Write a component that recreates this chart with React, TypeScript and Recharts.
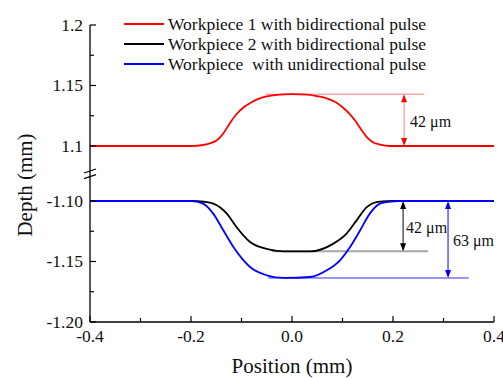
import React from 'react';
import { LineChart, Line, XAxis, YAxis, ReferenceLine } from 'recharts';

// measured profiles (position in mm, depth in mm)
const redX = [-0.4, -0.2, -0.176, -0.16, -0.148, -0.135, -0.123, -0.11, -0.095, -0.08, -0.065, -0.05, -0.03, 0, 0.03, 0.05, 0.069, 0.085, 0.1, 0.113, 0.125, 0.138, 0.151, 0.162, 0.174, 0.194, 0.4];
const redDepth = [1.1, 1.1, 1.1008, 1.1025, 1.105, 1.111, 1.1188, 1.1262, 1.1322, 1.1362, 1.1392, 1.141, 1.1422, 1.1428, 1.1425, 1.1412, 1.1394, 1.1365, 1.132, 1.127, 1.121, 1.113, 1.106, 1.1027, 1.1012, 1.1, 1.1];

const blackX = [-0.4, -0.198, -0.175, -0.156, -0.129, -0.11, -0.083, -0.044, -0.017, 0.036, 0.082, 0.108, 0.128, 0.148, 0.174, 0.201, 0.4];
const blackDepth = [-1.1, -1.1, -1.1006, -1.1021, -1.1104, -1.1215, -1.1339, -1.1402, -1.1416, -1.1416, -1.1352, -1.1269, -1.116, -1.105, -1.1005, -1.1, -1.1];

const blueX = [-0.4, -0.199, -0.176, -0.156, -0.136, -0.116, -0.096, -0.083, -0.05, -0.017, 0.036, 0.069, 0.095, 0.115, 0.135, 0.154, 0.174, 0.194, 0.21, 0.4];
const blueDepth = [-1.1, -1.1, -1.1021, -1.1104, -1.1242, -1.138, -1.149, -1.1545, -1.1614, -1.1636, -1.1628, -1.1573, -1.149, -1.138, -1.1242, -1.1104, -1.1021, -1.1005, -1.1, -1.1];

const seriesNames = [
  'Workpiece 1 with bidirectional pulse',
  'Workpiece 2 with bidirectional pulse',
  'Workpiece  with unidirectional pulse',
];
const seriesColors = ['#ff0000', '#000000', '#0000ff'];

const xTicks = [-0.4, -0.3, -0.2, -0.1, 0, 0.1, 0.2, 0.3, 0.4];
const xTickLabels = ['-0.4', '', '-0.2', '', '0.0', '', '0.2', '', '0.4'];

const topTicks = [1.1, 1.125, 1.15, 1.175, 1.2];
const topTickLabels = ['1.1', '', '1.15', '', '1.2'];
const bottomTicks = [-1.2, -1.175, -1.15, -1.125, -1.1];
const bottomTickLabels = ['-1.20', '', '-1.15', '', '-1.10'];

// the upper section (1.1 .. 1.2) sits right on top of the lower one after the axis break
const TOP_OFFSET = 2.1545;
const Y_DOMAIN: [number, number] = [-1.2, 1.2 - TOP_OFFSET];
const BREAK_U = (-1.1 + (1.1 - TOP_OFFSET)) / 2;

const toRows = (xs: number[], ys: number[], off = 0) => xs.map((x, i) => ({ x, y: ys[i] - off }));
const redData = toRows(redX, redDepth, TOP_OFFSET);
const blackData = toRows(blackX, blackDepth);
const blueData = toRows(blueX, blueDepth);

const redPeak = Math.max(...redDepth) - TOP_OFFSET;
const redBase = 1.1 - TOP_OFFSET;
const blackBottom = Math.min(...blackDepth);
const blueBottom = Math.min(...blueDepth);

const yTickEntries = [
  ...topTicks.map((v, i) => ({ u: v - TOP_OFFSET, label: topTickLabels[i] })),
  ...bottomTicks.map((v, i) => ({ u: v, label: bottomTickLabels[i] })),
];

const FONT = '"Liberation Serif", "Times New Roman", serif';

const YTick = (props: any) => {
  const { x, y, payload } = props;
  const t = yTickEntries.find(e => Math.abs(e.u - payload.value) < 1e-6);
  if (!t) return null;
  const len = t.label ? 6 : 4;
  return (
    <g>
      <line x1={x} x2={x + len} y1={y} y2={y} stroke="#000" strokeWidth={1.2} />
      {t.label && (
        <text x={x - 7} y={y} dy="0.34em" textAnchor="end" fontSize={17.5} fontFamily={FONT} fill="#111">
          {t.label}
        </text>
      )}
    </g>
  );
};

const XTick = (props: any) => {
  const { x, y, payload } = props;
  const idx = xTicks.findIndex(v => Math.abs(v - payload.value) < 1e-6);
  if (idx < 0) return null;
  const label = xTickLabels[idx];
  const len = label ? 6 : 4;
  return (
    <g>
      <line x1={x} x2={x} y1={y} y2={y - len} stroke="#000" strokeWidth={1.2} />
      {label && (
        <text x={x} y={y + 20} textAnchor="middle" fontSize={17.5} fontFamily={FONT} fill="#111">
          {label}
        </text>
      )}
    </g>
  );
};

const arrowShape = (headColor: string, lineColor: string, label: string, dx: number) => (p: any) => {
  const { x1, y1, y2 } = p;
  const top = Math.min(y1, y2);
  const bot = Math.max(y1, y2);
  const h = 8;
  const w = 3;
  return (
    <g>
      <line x1={x1} x2={x1} y1={top + 2} y2={bot - 2} stroke={lineColor} strokeWidth={1} />
      <polygon points={`${x1},${top} ${x1 - w},${top + h} ${x1 + w},${top + h}`} fill={headColor} />
      <polygon points={`${x1},${bot} ${x1 - w},${bot - h} ${x1 + w},${bot - h}`} fill={headColor} />
      <text x={x1 + dx} y={(top + bot) / 2 + 1} dy="0.34em" fontSize={16} fontFamily={FONT} fill="#111">
        {label}
      </text>
    </g>
  );
};

export default function App() {
  return (
    <div style={{ position: 'absolute', left: 0, top: 0, width: 503, height: 378, background: '#fff', fontFamily: FONT }}>
      <LineChart width={503} height={378} margin={{ top: 25, right: 9, bottom: 0, left: 0 }}>
        <XAxis
          dataKey="x"
          type="number"
          domain={[-0.4, 0.4]}
          ticks={xTicks}
          interval={0}
          allowDataOverflow
          height={56}
          tickSize={0}
          tickMargin={0}
          tickLine={false}
          tick={<XTick />}
          axisLine={{ stroke: '#000', strokeWidth: 1.3 }}
          label={{
            content: () => (
              <text x={292} y={373} textAnchor="middle" fontSize={21} fontFamily={FONT} fill="#111">
                Position (mm)
              </text>
            ),
          }}
        />
        <YAxis
          type="number"
          domain={Y_DOMAIN}
          ticks={yTickEntries.map(e => e.u)}
          interval={0}
          allowDataOverflow
          width={90}
          tickSize={0}
          tickMargin={0}
          tickLine={false}
          tick={<YTick />}
          axisLine={{ stroke: '#000', strokeWidth: 1.3 }}
          label={{
            content: () => (
              <text x={32} y={185} transform="rotate(-90 32 185)" textAnchor="middle" fontSize={21} fontFamily={FONT} fill="#111">
                Depth (mm)
              </text>
            ),
          }}
        />

        {/* axis break marks */}
        <ReferenceLine
          ifOverflow="visible"
          segment={[{ x: -0.4119, y: BREAK_U + 0.0004 }, { x: -0.3881, y: BREAK_U + 0.0037 }]}
          stroke="#000"
          strokeWidth={1.2}
        />
        <ReferenceLine
          ifOverflow="visible"
          segment={[{ x: -0.4119, y: BREAK_U - 0.0042 }, { x: -0.3881, y: BREAK_U - 0.0009 }]}
          stroke="#000"
          strokeWidth={1.2}
        />

        {/* depth guides */}
        <ReferenceLine ifOverflow="visible" segment={[{ x: -0.053, y: redPeak }, { x: 0.262, y: redPeak }]} stroke="#ffaaaa" strokeWidth={1.5} />
        <ReferenceLine ifOverflow="visible" segment={[{ x: -0.04, y: blackBottom }, { x: 0.269, y: blackBottom }]} stroke="#a8a8a8" strokeWidth={2} />
        <ReferenceLine ifOverflow="visible" segment={[{ x: -0.047, y: blueBottom }, { x: 0.35, y: blueBottom }]} stroke="#3030ff" strokeWidth={1} />

        <Line data={redData} dataKey="y" type="monotone" stroke={seriesColors[0]} strokeWidth={1.8} dot={false} isAnimationActive={false} />
        <Line data={blackData} dataKey="y" type="monotone" stroke={seriesColors[1]} strokeWidth={1.8} dot={false} isAnimationActive={false} />
        <Line data={blueData} dataKey="y" type="monotone" stroke={seriesColors[2]} strokeWidth={1.8} dot={false} isAnimationActive={false} />

        <ReferenceLine
          ifOverflow="visible"
          segment={[{ x: 0.222, y: redBase }, { x: 0.222, y: redPeak }]}
          shape={arrowShape('#ff0000', '#ff8080', '42 μm', 6)}
        />
        <ReferenceLine
          ifOverflow="visible"
          segment={[{ x: 0.22, y: -1.1 }, { x: 0.22, y: blackBottom }]}
          shape={arrowShape('#000000', '#000000', '42 μm', 3)}
        />
        <ReferenceLine
          ifOverflow="visible"
          segment={[{ x: 0.309, y: -1.1 }, { x: 0.309, y: blueBottom }]}
          shape={arrowShape('#0000ff', '#0000ff', '63 μm', 5)}
        />
      </LineChart>

      <div style={{ position: 'absolute', left: 124, top: 14 }}>
        {seriesNames.map((name, i) => (
          <div key={name} style={{ display: 'flex', alignItems: 'center', height: 20 }}>
            <div style={{ width: 40, height: 2, background: seriesColors[i], marginRight: 4 }} />
            <span style={{ fontSize: 17.5, color: '#111', whiteSpace: 'pre', lineHeight: '20px' }}>{name}</span>
          </div>
        ))}
      </div>
    </div>
  );
}
